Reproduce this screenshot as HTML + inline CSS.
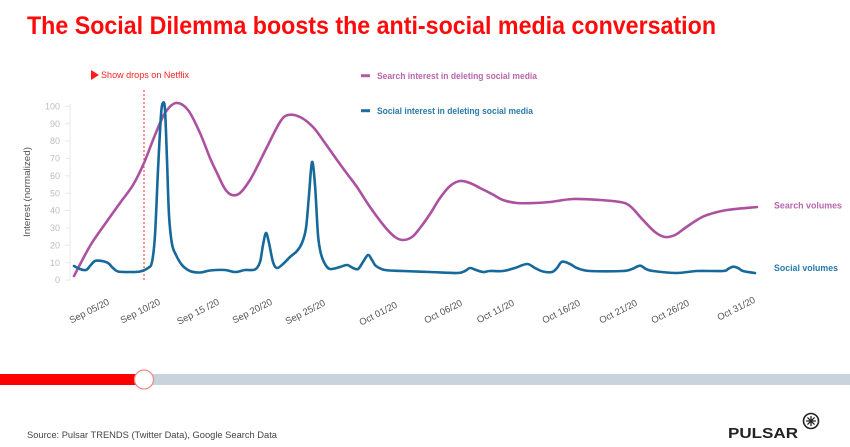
<!DOCTYPE html>
<html><head><meta charset="utf-8">
<style>
html,body{margin:0;padding:0;background:#fff;}
body{width:850px;height:447px;overflow:hidden;}
svg{display:block;}
text{font-family:"Liberation Sans",sans-serif;}
</style></head>
<body>
<svg width="850" height="447" viewBox="0 0 850 447" xmlns="http://www.w3.org/2000/svg">
<rect width="850" height="447" fill="#fff"/>
<!-- Title -->
<text x="27" y="34" font-size="25" font-weight="bold" fill="#ff0a0a" textLength="689" lengthAdjust="spacingAndGlyphs">The Social Dilemma boosts the anti-social media conversation</text>

<!-- Netflix annotation -->
<polygon points="91,70 91,80 99,75" fill="#ff1a1a"/>
<text x="101" y="78" font-size="9" fill="#ff2020" textLength="88" lengthAdjust="spacingAndGlyphs">Show drops on Netflix</text>

<!-- Legend -->
<line x1="361" y1="75.7" x2="370" y2="75.7" stroke="#b05aa6" stroke-width="3"/>
<text x="377" y="79" font-size="9" font-weight="bold" fill="#b866ad" textLength="160" lengthAdjust="spacingAndGlyphs">Search interest in deleting social media</text>
<line x1="361" y1="110.7" x2="370" y2="110.7" stroke="#1f6e9e" stroke-width="3"/>
<text x="377" y="114" font-size="9" font-weight="bold" fill="#2a7aaa" textLength="156" lengthAdjust="spacingAndGlyphs">Social interest in deleting social media</text>

<!-- Y axis -->
<line x1="70" y1="104" x2="70" y2="281" stroke="#e8e8e8" stroke-width="1"/>
<g stroke="#e8e8e8" stroke-width="1">
<line x1="65" y1="106.3" x2="70" y2="106.3"/>
<line x1="65" y1="123.7" x2="70" y2="123.7"/>
<line x1="65" y1="141.0" x2="70" y2="141.0"/>
<line x1="65" y1="158.4" x2="70" y2="158.4"/>
<line x1="65" y1="175.8" x2="70" y2="175.8"/>
<line x1="65" y1="193.2" x2="70" y2="193.2"/>
<line x1="65" y1="210.5" x2="70" y2="210.5"/>
<line x1="65" y1="227.9" x2="70" y2="227.9"/>
<line x1="65" y1="245.3" x2="70" y2="245.3"/>
<line x1="65" y1="262.6" x2="70" y2="262.6"/>
<line x1="65" y1="280.0" x2="70" y2="280.0"/>
</g>
<g font-size="9" fill="#bdbdbd" text-anchor="end">
<text x="60" y="109.5">100</text>
<text x="60" y="126.9">90</text>
<text x="60" y="144.2">80</text>
<text x="60" y="161.6">70</text>
<text x="60" y="179.0">60</text>
<text x="60" y="196.4">50</text>
<text x="60" y="213.7">40</text>
<text x="60" y="231.1">30</text>
<text x="60" y="248.5">20</text>
<text x="60" y="265.8">10</text>
<text x="60" y="283.2">0</text>
</g>
<text transform="translate(30,192) rotate(-90)" font-size="9.5" fill="#555" text-anchor="middle" textLength="90" lengthAdjust="spacingAndGlyphs">Interest (normalized)</text>

<!-- X labels -->
<g font-size="9.5" fill="#555" text-anchor="end" xml:space="preserve">
<text transform="translate(110,304) rotate(-27)">Sep  05/20</text>
<text transform="translate(161,304) rotate(-27)">Sep 10/20</text>
<text transform="translate(220,304) rotate(-27)">Sep 15 /20</text>
<text transform="translate(273,304) rotate(-27)">Sep 20/20</text>
<text transform="translate(326,305) rotate(-27)">Sep 25/20</text>
<text transform="translate(398,307) rotate(-27)">Oct 01/20</text>
<text transform="translate(463,305) rotate(-27)">Oct 06/20</text>
<text transform="translate(515,305) rotate(-27)">Oct 11/20</text>
<text transform="translate(581,305) rotate(-27)">Oct 16/20</text>
<text transform="translate(638,305) rotate(-27)">Oct 21/20</text>
<text transform="translate(690,305) rotate(-27)">Oct 26/20</text>
<text transform="translate(756,302) rotate(-27)">Oct  31/20</text>
</g>

<!-- Dashed Netflix line -->
<line x1="144" y1="90" x2="144" y2="280" stroke="#ff2a2a" stroke-width="1" stroke-dasharray="2,2"/>

<!-- Series -->
<polyline id="mag" class="smooth" fill="none" stroke="#ac519f" stroke-width="2.6" stroke-linejoin="round" stroke-linecap="round"
points="74,276 90,246 105,224 120,203 133,185 144,163 155,135 165,113 176,103 188,110 200,133 210,158 217,173 225,189 232,195 240,193 250,180 258,165 267,147 280,122 288,115 300,117 313,127 325,143 337,160 348,175 357,187 370,207 385,227 395,237 403,240 412,237 420,228 430,214 440,198 450,186 460,181 470,183 480,188 492,194 503,200 517,203 535,203 550,202 573,199 600,200 620,202 630,206 643,220 655,232 665,237 675,235 685,228 697,220 707,215 727,210 757,207"/>
<polyline id="blu" class="smooth" fill="none" stroke="#17699b" stroke-width="2.6" stroke-linejoin="round" stroke-linecap="round"
points="74,266 80,269 86,270 90,266 95,261 102,261 108,263 113,268 118,271.5 130,272 140,271.5 148,268 152,262 155,235 158,170 161,115 163,103 165,110 167,160 169,215 172,244 176,255 182,265 190,271 200,272.5 210,270.5 225,270 235,272 245,270 255,269.5 260,262 263,245 266,233 269,243 273,262 277,268 283,264 290,257 297,251 302,243 306,228 309,195 312,162 315,185 318,235 321,254 325,264 330,269 340,267 347,265 353,268 358,269 363,262 368,255 372,260 376,266 385,270 403,271 430,272 457,273 465,271 470,268 476,270 483,272 490,271 503,271 515,268 527,264 535,268 543,271.5 552,272 557,268 562,261.7 570,264 577,268 590,271 623,271 632,269 640,265.7 646,269 653,271 677,273 697,271 723,271 728,269 733,266.7 738,268 743,271 755,273"/>

<!-- Right labels -->
<text x="774" y="208.5" font-size="9" font-weight="bold" fill="#b866ad" textLength="68" lengthAdjust="spacingAndGlyphs">Search volumes</text>
<text x="774" y="271" font-size="9" font-weight="bold" fill="#2a7aaa" textLength="64" lengthAdjust="spacingAndGlyphs">Social volumes</text>

<!-- Progress bar -->
<rect x="0" y="374" width="850" height="11" fill="#c8d3dc"/>
<rect x="0" y="374" width="142" height="11" fill="#ff0000"/>
<circle cx="144" cy="379.5" r="9.5" fill="#fff" stroke="#f28c8c" stroke-width="1.3"/>

<!-- Footer -->
<text x="27" y="438" font-size="9" fill="#444" textLength="250" lengthAdjust="spacingAndGlyphs">Source: Pulsar TRENDS (Twitter Data), Google Search Data</text>
<text x="728" y="438" font-size="15" font-weight="bold" fill="#222" textLength="70" lengthAdjust="spacingAndGlyphs">PULSAR</text>
<circle cx="811" cy="421" r="7.5" fill="none" stroke="#222" stroke-width="1.6"/>
<g stroke="#222" stroke-width="1.3" stroke-linecap="round">
<line x1="811" y1="416.5" x2="811" y2="425.5"/>
<line x1="806.5" y1="421" x2="815.5" y2="421"/>
<line x1="807.8" y1="417.8" x2="814.2" y2="424.2"/>
<line x1="814.2" y1="417.8" x2="807.8" y2="424.2"/>
</g>
</svg>
<script>
(function(){
  var ns="http://www.w3.org/2000/svg";
  var pls=document.querySelectorAll("polyline.smooth");
  for(var k=0;k<pls.length;k++){
    var pl=pls[k];
    var raw=pl.getAttribute("points").trim().split(/\s+/).map(function(s){var a=s.split(",");return [parseFloat(a[0]),parseFloat(a[1])];});
    var d="M"+raw[0][0]+","+raw[0][1];
    for(var i=0;i<raw.length-1;i++){
      var p0=raw[i>0?i-1:i],p1=raw[i],p2=raw[i+1],p3=raw[i+2<raw.length?i+2:i+1];
      var c1x=p1[0]+(p2[0]-p0[0])/6,c1y=p1[1]+(p2[1]-p0[1])/6;
      var c2x=p2[0]-(p3[0]-p1[0])/6,c2y=p2[1]-(p3[1]-p1[1])/6;
      d+=" C"+c1x.toFixed(2)+","+c1y.toFixed(2)+" "+c2x.toFixed(2)+","+c2y.toFixed(2)+" "+p2[0]+","+p2[1];
    }
    var p=document.createElementNS(ns,"path");
    p.setAttribute("d",d);
    ["fill","stroke","stroke-width","stroke-linejoin","stroke-linecap"].forEach(function(a){p.setAttribute(a,pl.getAttribute(a));});
    pl.parentNode.replaceChild(p,pl);
  }
})();
</script>
</body></html>
